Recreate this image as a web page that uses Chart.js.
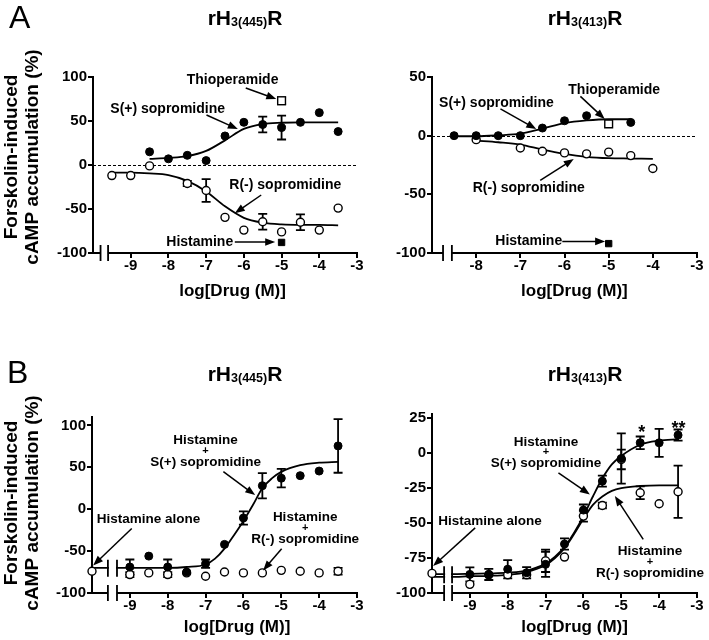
<!DOCTYPE html>
<html lang="en">
<head>
<meta charset="UTF-8" />
<title>Sopromidine enantiomers - cAMP accumulation</title>
<script src="https://cdn.jsdelivr.net/npm/chart.js@4.4.1/dist/chart.umd.min.js"></script>
<style>
  html, body { margin: 0; padding: 0; background: #fff; }
  #wrap { position: relative; width: 709px; height: 640px; }
  #wrap canvas { position: absolute; left: 0; top: 0; }
</style>
</head>
<body>
<div id="wrap">
  <canvas id="cA445" width="709" height="640"></canvas>
  <canvas id="cA413" width="709" height="640"></canvas>
  <canvas id="cB445" width="709" height="640"></canvas>
  <canvas id="cB413" width="709" height="640"></canvas>
</div>

<script>
// ---------- data ----------
// tick labels
const xTicksFull = [-9, -8, -7, -6, -5, -4, -3];
const xTicksA413 = [-8, -7, -6, -5, -4, -3];
const yTicksA445 = [-100, -50, 0, 50, 100];
const yTicksA413 = [-100, -50, 0, 50];
const yTicksB445 = [-100, -50, 0, 50, 100];
const yTicksB413 = [-100, -75, -50, -25, 0, 25];

// A, rH3(445)R
const a445DoseS = [-8.5, -8, -7.5, -7, -6.5, -6, -5.5, -5, -4.5, -4, -3.5];
const a445S     = [15, 7, 11, 5, 33, 48.5, 46, 42.5, 48.5, 59.5, 38];
const a445SErr  = [0, 0, 0, 0, 0, 0, 9, 13.5, 0, 0, 0];
const a445DoseR = [-9.5, -9, -8.5, -7.5, -7, -6.5, -6, -5.5, -5, -4.5, -4, -3.5];
const a445R     = [-12, -12, -1, -21, -29, -59.5, -74, -64.5, -76, -65, -74, -49];
const a445RErr  = [0, 0, 0, 3, 13, 0, 0, 9, 0, 9, 0, 0];
const a445FitDoseS = [-8.5, -8, -7.5, -7, -6.5, -6, -5.5, -5, -4.5, -4, -3.5];
const a445FitS     = [7, 8, 10, 16, 28, 41, 46.5, 48, 48.5, 48.5, 48.5];
const a445FitDoseR = [-9.5, -9, -8.5, -8, -7.5, -7, -6.5, -6, -5.5, -5, -4.5, -4, -3.5];
const a445FitR     = [-8.7, -8.7, -9.5, -11.4, -18, -30, -47, -60, -65.5, -67.5, -68, -68, -68.5];
const a445ThioDose = [-5];
const a445Thio     = [73];
const a445ThioErr  = [4];
const a445HisDose  = [-5];
const a445His      = [-88];

// A, rH3(413)R
const a413DoseS = [-8.5, -8, -7.5, -7, -6.5, -6, -5.5, -4.5];
const a413S     = [0, 0, 0, 0, 6.5, 12.7, 17, 11.3];
const a413DoseR = [-8, -7, -6.5, -6, -5.5, -5, -4.5, -4];
const a413R     = [-3.4, -10.5, -13.3, -14.7, -15.5, -14, -17, -28];
const a413FitDoseS = [-8.5, -8, -7.5, -7, -6.5, -6, -5.5, -5, -4.5];
const a413FitS     = [-0.5, -0.5, 0.3, 1.7, 6, 10.7, 13, 14, 14];
const a413FitDoseR = [-8, -7.5, -7, -6.5, -6, -5.5, -5, -4.5, -4];
const a413FitR     = [-4.2, -5.6, -7.6, -11.9, -15.5, -18, -19.2, -19.5, -19.8];
const a413ThioDose = [-5];
const a413Thio     = [10];
const a413HisDose  = [-5];
const a413His      = [-92];

// B, rH3(445)R (histamine + enantiomer)
const b445Dose  = [-9, -8.5, -8, -7.5, -7, -6.5, -6, -5.5, -5, -4.5, -4, -3.5];
const b445S     = [-69, -56, -69, -75, -65, -42, -10.5, 28, 37, 40, 45.5, 75.5];
const b445SErr  = [9, 0, 9, 0, 5, 0, 8, 15, 11, 0, 0, 32];
const b445R     = [-78, -76, -78, -76, -80, -75, -76, -76, -73, -74, -76, -74];
const b445RErr  = [3, 0, 3, 0, 0, 0, 0, 0, 0, 0, 0, 4];
const b445FitDose = [-10, -9.5, -9, -8.5, -8, -7.5, -7, -6.75, -6.5, -6.25, -6, -5.75, -5.5, -5.25, -5, -4.5, -4, -3.5];
const b445FitS    = [-70, -70, -70, -70, -70, -69, -66, -59, -47, -31, -14, 5, 25, 36.7, 44.5, 52.5, 55.5, 56.5];
const b445AloneDose = [-10];
const b445Alone     = [-74];

// B, rH3(413)R (histamine + enantiomer)
const b413Dose  = [-9, -8.5, -8, -7.5, -7, -6.5, -6, -5.5, -5, -4.5, -4, -3.5];
const b413S     = [-86.7, -86.7, -83, -85.5, -79.5, -65, -40.7, -20, -3.8, 7.4, 7.4, 12.9];
const b413SErr  = [5, 4, 6.5, 4, 9, 4, 4, 4, 18, 4.5, 10, 4];
const b413R     = [-93.8, -87, -87, -87, -77, -74.3, -45, -37.4, -4.5, -28.3, -36.2, -27.6];
const b413RErr  = [0, 0, 0, 0, 8, 0, 4, 2, 7, 4.5, 0, 18.7];
const b413FitDose = [-10, -9.5, -9, -8.5, -8, -7.5, -7, -6.75, -6.5, -6.25, -6, -5.75, -5.5, -5.25, -5, -4.5, -4, -3.5];
const b413FitS    = [-86.5, -86.5, -86.3, -86, -85.5, -84, -79, -74, -67, -57, -45, -31, -18, -8, -2, 6, 9, 10];
const b413FitR    = [-88.5, -88.5, -88, -87.7, -87, -85, -80, -75, -68, -58, -47, -37, -31, -27, -25, -23.5, -23, -23];
const b413AloneDose = [-10];
const b413Alone     = [-86];

// ---------- drawing ----------
const FONT = '"Liberation Sans", Arial, Helvetica, sans-serif';
const W = 709, H = 640;
Chart.defaults.font.family = FONT;
Chart.defaults.color = '#000';

function pts(xs, ys) { return xs.map((x, i) => ({ x: x, y: ys[i] })); }

function toDataset(s) {
  const ds = { data: pts(s.xs, s.ys), errs: s.errs || null, clip: false };
  if (s.kind === 'fit') {
    return Object.assign(ds, {
      type: 'line', showLine: true, borderColor: '#000', borderWidth: 1.8,
      pointRadius: 0, cubicInterpolationMode: 'monotone', fill: false, order: 3
    });
  }
  const filled = s.kind === 'filled' || s.kind === 'sqFilled';
  const square = s.kind === 'sqOpen' || s.kind === 'sqFilled';
  return Object.assign(ds, {
    type: 'scatter', showLine: false,
    pointStyle: square ? 'rect' : 'circle',
    pointRadius: square ? (filled ? 4.5 : 5.5) : 4,
    pointBackgroundColor: filled ? '#000' : '#fff',
    pointBorderColor: '#000',
    pointBorderWidth: filled ? 1 : 1.4,
    order: filled ? 1 : 2
  });
}

function arrow(ctx, x0, y0, x1, y1) {
  const a = Math.atan2(y1 - y0, x1 - x0);
  const len = 10, hw = 3.8;
  ctx.beginPath();
  ctx.moveTo(x0, y0);
  ctx.lineTo(x1 - Math.cos(a) * (len - 1), y1 - Math.sin(a) * (len - 1));
  ctx.stroke();
  ctx.beginPath();
  ctx.moveTo(x1, y1);
  ctx.lineTo(x1 - Math.cos(a) * len - Math.sin(a) * hw, y1 - Math.sin(a) * len + Math.cos(a) * hw);
  ctx.lineTo(x1 - Math.cos(a) * len + Math.sin(a) * hw, y1 - Math.sin(a) * len - Math.cos(a) * hw);
  ctx.closePath();
  ctx.fill();
}

function makePanel(cfg) {
  const [L, T, R, B] = cfg.area;

  const decor = {
    id: 'decor',
    beforeDatasetsDraw(chart) {
      const ctx = chart.ctx, ca = chart.chartArea;
      const ys = chart.scales.y;
      ctx.save();
      if (cfg.zeroLine) {
        const y0 = Math.round(ys.getPixelForValue(0)) + 0.5;
        ctx.strokeStyle = '#000';
        ctx.lineWidth = 1;
        ctx.setLineDash([3, 2]);
        ctx.beginPath();
        ctx.moveTo(ca.left, y0);
        ctx.lineTo(ca.right, y0);
        ctx.stroke();
        ctx.setLineDash([]);
      }
      // error bars
      ctx.strokeStyle = '#000';
      ctx.lineWidth = 1.8;
      chart.data.datasets.forEach((ds, i) => {
        if (!ds.errs) return;
        const meta = chart.getDatasetMeta(i);
        ds.data.forEach((d, j) => {
          const e = ds.errs[j];
          if (!e) return;
          const px = meta.data[j].x;
          const yt = ys.getPixelForValue(d.y + e), yb = ys.getPixelForValue(d.y - e);
          ctx.beginPath();
          ctx.moveTo(px, yt); ctx.lineTo(px, yb);
          ctx.moveTo(px - 4.5, yt); ctx.lineTo(px + 4.5, yt);
          ctx.moveTo(px - 4.5, yb); ctx.lineTo(px + 4.5, yb);
          ctx.stroke();
        });
      });
      ctx.restore();
    },
    afterDatasetsDraw(chart) {
      const ctx = chart.ctx, ca = chart.chartArea;
      const xs = chart.scales.x, ys = chart.scales.y;
      const b1 = xs.getPixelForValue(cfg.xBreak[0]);
      const b2 = xs.getPixelForValue(cfg.xBreak[1]);
      ctx.save();
      ctx.strokeStyle = '#000';
      ctx.fillStyle = '#000';

      // breaks across the fitted curves (histamine alone level)
      (cfg.curveBreaks || []).forEach(v => {
        const yc = ys.getPixelForValue(v);
        ctx.fillStyle = '#fff';
        ctx.fillRect(b1 + 1, yc - 9, b2 - b1 - 2, 18);
        ctx.fillStyle = '#000';
        ctx.lineWidth = 1.8;
        ctx.beginPath();
        ctx.moveTo(b1, yc - 8.5); ctx.lineTo(b1, yc + 8.5);
        ctx.moveTo(b2, yc - 8.5); ctx.lineTo(b2, yc + 8.5);
        ctx.stroke();
      });

      // x axis with break
      const yb = ca.bottom;
      ctx.lineWidth = 2;
      ctx.beginPath();
      ctx.moveTo(ca.left, yb); ctx.lineTo(b1, yb);
      ctx.moveTo(b2, yb); ctx.lineTo(ca.right + 1, yb);
      ctx.stroke();
      ctx.lineWidth = 1.8;
      ctx.beginPath();
      ctx.moveTo(b1, yb - 8); ctx.lineTo(b1, yb + 8);
      ctx.moveTo(b2, yb - 8); ctx.lineTo(b2, yb + 8);
      ctx.stroke();

      // annotations
      ctx.lineWidth = 1.5;
      cfg.arrows.forEach(a => {
        arrow(ctx, xs.getPixelForValue(a[0]), ys.getPixelForValue(a[1]),
                   xs.getPixelForValue(a[2]), ys.getPixelForValue(a[3]));
      });
      ctx.textAlign = 'center';
      ctx.textBaseline = 'middle';
      const offs = [0, 10.5, 21.5];
      cfg.labels.forEach(lb => {
        const px = xs.getPixelForValue(lb.x), py = ys.getPixelForValue(lb.y);
        lb.lines.forEach((t, k) => {
          let size = cfg.labelSize;
          if (t === '+') size = 11;
          if (t[0] === '*') size = 18;
          ctx.font = 'bold ' + size + 'px ' + FONT;
          ctx.fillText(t, px, py + offs[k]);
        });
      });

      // x axis title, centred on the part right of the break
      ctx.font = 'bold 17px ' + FONT;
      ctx.fillText('log[Drug (M)]', (b2 + ca.right) / 2, cfg.xTitleY);

      // panel title rH3(xxx)R with small subscript
      const big = 'bold 21px ' + FONT, small = 'bold 12.5px ' + FONT;
      ctx.font = big; const w1 = ctx.measureText('rH').width, w3 = ctx.measureText('R').width;
      ctx.font = small; const w2 = ctx.measureText(cfg.sub).width;
      let tx = cfg.titleX - (w1 + w2 + w3) / 2;
      ctx.textAlign = 'left';
      ctx.textBaseline = 'alphabetic';
      ctx.font = big; ctx.fillText('rH', tx, cfg.titleY); tx += w1;
      ctx.font = small; ctx.fillText(cfg.sub, tx, cfg.titleY + 1); tx += w2;
      ctx.font = big; ctx.fillText('R', tx, cfg.titleY);

      // panel letter
      if (cfg.letter) {
        ctx.font = '32px ' + FONT;
        ctx.fillText(cfg.letter, cfg.letterPos[0], cfg.letterPos[1]);
      }

      // y axis title
      if (cfg.yTitleY) {
        ctx.font = 'bold 19px ' + FONT;
        ctx.textAlign = 'center';
        ctx.textBaseline = 'middle';
        ctx.translate(0, cfg.yTitleY);
        ctx.rotate(-Math.PI / 2);
        ctx.fillText('Forskolin-induced', 0, 12);
        ctx.fillText('cAMP accumulation (%)', 0, 33);
      }
      ctx.restore();
    }
  };

  return new Chart(document.getElementById(cfg.canvas), {
    type: 'scatter',
    data: { datasets: cfg.series.map(toDataset) },
    options: {
      responsive: false,
      animation: false,
      events: [],
      // the scale boxes are sized so that the plot area lands on cfg.area
      layout: { padding: { left: 0, top: T, right: W - R, bottom: 0 } },
      plugins: { legend: { display: false }, tooltip: { enabled: false } },
      scales: {
        x: {
          type: 'linear', min: cfg.xMin, max: cfg.xMax,
          afterBuildTicks: s => { s.ticks = cfg.xTicks.map(v => ({ value: v })); },
          afterFit: s => { s.height = H - B; },
          border: { display: false },
          grid: { drawOnChartArea: false, tickLength: 5, lineWidth: 2, color: '#000' },
          ticks: { font: { size: 15, weight: 'bold' }, color: '#000', padding: -1,
                   maxRotation: 0, autoSkip: false, callback: v => String(v) }
        },
        y: {
          type: 'linear', min: cfg.yMin, max: cfg.yMax,
          afterBuildTicks: s => { s.ticks = cfg.yTicks.map(v => ({ value: v })); },
          afterFit: s => { s.width = L; },
          border: { display: true, width: 2, color: '#000' },
          grid: { drawOnChartArea: false, tickLength: 5, lineWidth: 2, color: '#000' },
          ticks: { font: { size: 15, weight: 'bold' }, color: '#000', padding: 1,
                   autoSkip: false, callback: v => String(v) }
        }
      }
    },
    plugins: [decor]
  });
}

makePanel({
  canvas: 'cA445', area: [93, 77, 357, 253],
  xMin: -10, xMax: -3, xTicks: xTicksFull, yMin: -100, yMax: 100, yTicks: yTicksA445,
  xBreak: [-9.8, -9.6], zeroLine: true,
  series: [
    { kind: 'fit', xs: a445FitDoseS, ys: a445FitS },
    { kind: 'fit', xs: a445FitDoseR, ys: a445FitR },
    { kind: 'filled', xs: a445DoseS, ys: a445S, errs: a445SErr },
    { kind: 'open', xs: a445DoseR, ys: a445R, errs: a445RErr },
    { kind: 'sqOpen', xs: a445ThioDose, ys: a445Thio, errs: a445ThioErr },
    { kind: 'sqFilled', xs: a445HisDose, ys: a445His }
  ],
  labelSize: 14,
  labels: [
    { x: -6.30, y: 96.6, lines: ['Thioperamide'] },
    { x: -8.02, y: 63.6, lines: ['S(+) sopromidine'] },
    { x: -4.90, y: -22.7, lines: ['R(-) sopromidine'] },
    { x: -7.17, y: -87.5, lines: ['Histamine'] }
  ],
  arrows: [[-5.95, 87.5, -5.14, 75], [-6.99, 56.8, -6.16, 40.9],
           [-5.54, -34.1, -6.24, -54.9], [-6.24, -87.5, -5.17, -87.5]],
  sub: '3(445)', titleX: 245, titleY: 25, xTitleY: 291,
  letter: 'A', letterPos: [9, 28], yTitleY: 157
});

makePanel({
  canvas: 'cA413', area: [432, 77, 697, 253],
  xMin: -9, xMax: -3, xTicks: xTicksA413, yMin: -100, yMax: 50, yTicks: yTicksA413,
  xBreak: [-8.75, -8.55], zeroLine: true,
  series: [
    { kind: 'fit', xs: a413FitDoseS, ys: a413FitS },
    { kind: 'fit', xs: a413FitDoseR, ys: a413FitR },
    { kind: 'filled', xs: a413DoseS, ys: a413S },
    { kind: 'open', xs: a413DoseR, ys: a413R },
    { kind: 'sqOpen', xs: a413ThioDose, ys: a413Thio },
    { kind: 'sqFilled', xs: a413HisDose, ys: a413His }
  ],
  labelSize: 14,
  labels: [
    { x: -4.875, y: 39.2, lines: ['Thioperamide'] },
    { x: -7.54, y: 27.9, lines: ['S(+) sopromidine'] },
    { x: -6.81, y: -44.6, lines: ['R(-) sopromidine'] },
    { x: -6.81, y: -90.1, lines: ['Histamine'] }
  ],
  arrows: [[-5.64, 33.5, -5.09, 14.2], [-7.45, 22.8, -6.64, 5.7],
           [-6.55, -38.1, -5.79, -19.9], [-6.05, -90.1, -5.08, -90.1]],
  sub: '3(413)', titleX: 585, titleY: 25, xTitleY: 291
});

makePanel({
  canvas: 'cB445', area: [92, 417, 357, 593],
  xMin: -10, xMax: -3, xTicks: xTicksFull, yMin: -100, yMax: 110, yTicks: yTicksB445,
  xBreak: [-9.58, -9.34], curveBreaks: [-70.5],
  series: [
    { kind: 'fit', xs: b445FitDose, ys: b445FitS },
    { kind: 'filled', xs: b445Dose, ys: b445S, errs: b445SErr },
    { kind: 'open', xs: b445Dose, ys: b445R, errs: b445RErr },
    { kind: 'open', xs: b445AloneDose, ys: b445Alone }
  ],
  labelSize: 13.5,
  labels: [
    { x: -7.0, y: 81.8, lines: ['Histamine', '+', 'S(+) sopromidine'] },
    { x: -8.51, y: -12.3, lines: ['Histamine alone'] },
    { x: -4.37, y: -9.9, lines: ['Histamine', '+', 'R(-) sopromidine'] }
  ],
  arrows: [[-6.53, 44.7, -5.69, 16.8], [-8.95, -23.1, -9.97, -67.1],
           [-4.99, -47.1, -5.48, -73.1]],
  sub: '3(445)', titleX: 245, titleY: 381, xTitleY: 627,
  letter: 'B', letterPos: [7, 383], yTitleY: 503
});

makePanel({
  canvas: 'cB413', area: [432, 414, 697, 593],
  xMin: -10, xMax: -3, xTicks: xTicksFull, yMin: -100, yMax: 28, yTicks: yTicksB413,
  xBreak: [-9.68, -9.47], curveBreaks: [-87],
  series: [
    { kind: 'fit', xs: b413FitDose, ys: b413FitS },
    { kind: 'fit', xs: b413FitDose, ys: b413FitR },
    { kind: 'filled', xs: b413Dose, ys: b413S, errs: b413SErr },
    { kind: 'open', xs: b413Dose, ys: b413R, errs: b413RErr },
    { kind: 'open', xs: b413AloneDose, ys: b413Alone }
  ],
  labelSize: 13.5,
  labels: [
    { x: -6.99, y: 8.1, lines: ['Histamine', '+', 'S(+) sopromidine'] },
    { x: -8.47, y: -48.6, lines: ['Histamine alone'] },
    { x: -4.24, y: -70.5, lines: ['Histamine', '+', 'R(-) sopromidine'] },
    { x: -4.46, y: 14.3, lines: ['*'] },
    { x: -3.49, y: 17.6, lines: ['**'] }
  ],
  arrows: [[-6.66, -14.1, -5.83, -29.5], [-8.86, -53.4, -9.97, -80.7],
           [-4.42, -61.6, -5.17, -30.7]],
  sub: '3(413)', titleX: 585, titleY: 381, xTitleY: 627
});
</script>
</body>
</html>
